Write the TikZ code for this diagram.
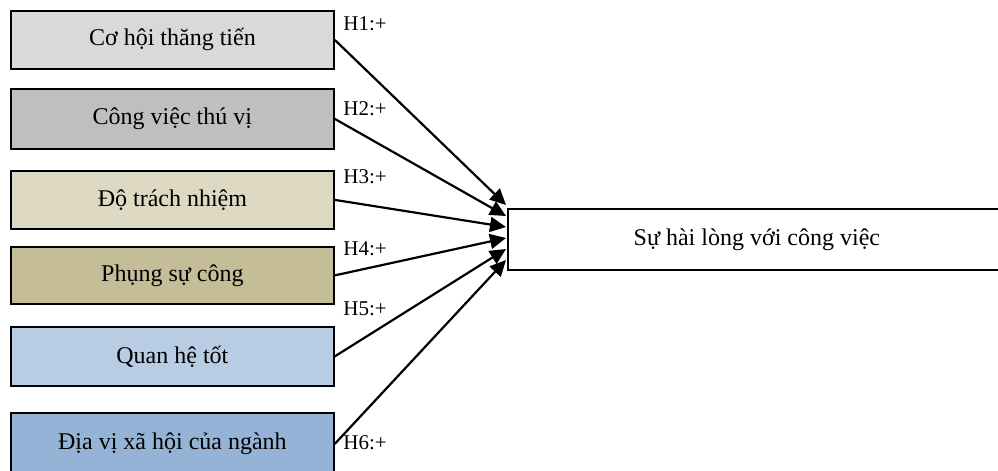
\documentclass[tikz,border=0pt]{standalone}
\usepackage{fontspec}
\setmainfont{Liberation Serif}
\usetikzlibrary{arrows.meta}
\definecolor{fillA}{HTML}{D9D9D9}
\definecolor{fillB}{HTML}{BFBFBF}
\definecolor{fillC}{HTML}{DDD9C3}
\definecolor{fillD}{HTML}{C4BD97}
\definecolor{fillE}{HTML}{B8CCE4}
\definecolor{fillF}{HTML}{95B3D7}
\tikzset{
  factor/.style={draw=black, line width=0.9pt, minimum width=161.5pt,
    inner sep=0pt, anchor=north west, font=\fontsize{12}{14}\selectfont},
  outcome/.style={draw=black, line width=0.9pt, minimum width=249pt,
    minimum height=30.5pt, inner sep=0pt, anchor=north west,
    font=\fontsize{12}{14}\selectfont},
  hlabel/.style={anchor=west, inner sep=0pt, font=\fontsize{10.5}{12}\selectfont},
  link/.style={line width=1.1pt, -{Triangle[length=8pt,width=7.5pt]}}
}
\begin{document}
\begin{tikzpicture}[x=0.5pt, y=-0.5pt]
\useasboundingbox (0,0) rectangle (998,471);
\clip (0,0) rectangle (998,471);
% left-hand factors
\node[factor, fill=fillA, minimum height=29pt]   (f1) at (10,10)  {Cơ hội thăng tiến};
\node[factor, fill=fillB, minimum height=30pt]   (f2) at (10,88)  {Công việc thú vị};
\node[factor, fill=fillC, minimum height=29pt]   (f3) at (10,170) {Độ trách nhiệm};
\node[factor, fill=fillD, minimum height=28.5pt] (f4) at (10,246) {Phụng sự công};
\node[factor, fill=fillE, minimum height=29.5pt] (f5) at (10,326) {Quan hệ tốt};
\node[factor, fill=fillF, minimum height=31pt]   (f6) at (10,412) {Địa vị xã hội của ngành};
% outcome
\node[outcome, fill=white] (t) at (507,208) {Sự hài lòng với công việc};
% arrow tips along the outcome's left edge
\coordinate (e1) at (506,205);
\coordinate (e2) at (506,216);
\coordinate (e3) at (506,227);
\coordinate (e4) at (506,238);
\coordinate (e5) at (506,249);
\coordinate (e6) at (506,260);
\draw[link] (f1.east) -- (e1);
\draw[link] (f2.east) -- (e2);
\draw[link] (f3.east) -- (e3);
\draw[link] (f4.east) -- (e4);
\draw[link] (f5.east) -- (e5);
\draw[link] (f6.east) -- (e6);
% hypothesis labels
\node[hlabel] (h1) at (343,24)  {H1:+};
\node[hlabel] (h2) at (343,109) {H2:+};
\node[hlabel] (h3) at (343,177) {H3:+};
\node[hlabel] (h4) at (343,249) {H4:+};
\node[hlabel] (h5) at (343,309) {H5:+};
\node[hlabel] (h6) at (343,443) {H6:+};
\end{tikzpicture}
\end{document}
